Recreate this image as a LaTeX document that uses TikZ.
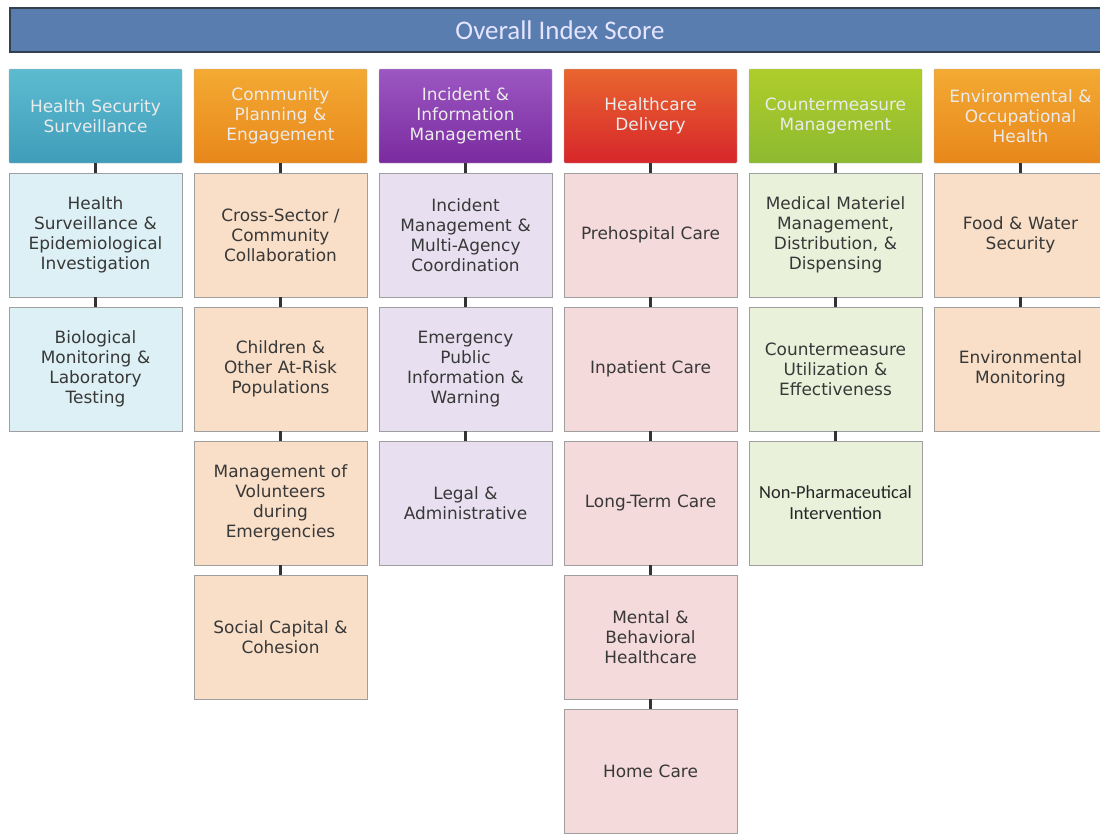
\documentclass[tikz,border=0pt]{standalone}
\usepackage{fontspec}
\setmainfont{DejaVu Sans}
\newfontfamily\calib{Carlito}
\usetikzlibrary{positioning}
\definecolor{barblue}{HTML}{5A7DB0}
\definecolor{barline}{HTML}{33404F}
\definecolor{tealtop}{HTML}{5DBBD0}
\definecolor{tealbot}{HTML}{3F9DBA}
\definecolor{oranget}{HTML}{F3AA33}
\definecolor{orangeb}{HTML}{E8871B}
\definecolor{purpt}{HTML}{9C57C2}
\definecolor{purpb}{HTML}{7A2B9F}
\definecolor{redt}{HTML}{E9662F}
\definecolor{redb}{HTML}{D7262B}
\definecolor{greent}{HTML}{AFCD2B}
\definecolor{greenb}{HTML}{8DBA30}
\definecolor{subteal}{HTML}{DDF0F5}
\definecolor{subpeach}{HTML}{F9DFC8}
\definecolor{subpurp}{HTML}{E8E0F0}
\definecolor{subpink}{HTML}{F5DADC}
\definecolor{subgreen}{HTML}{E9F1DA}

\begin{document}
\begin{tikzpicture}[
  x=1bp, y=-1bp,
  node distance=10bp and 12bp,
  headbox/.style={draw=gray!60,rounded corners=1bp,minimum width=173bp,minimum height=94bp,
    text width=166bp,inner sep=2bp,align=center,text=white!92!black,outer sep=0pt,
    font=\fontsize{17}{20}\selectfont},
  subbox/.style={draw=gray!75,minimum width=173bp,minimum height=124bp,
    text width=166bp,inner sep=2bp,align=center,text=black!78,outer sep=0pt,
    font=\fontsize{17}{20}\selectfont},
  ]
  \tikzset{%
    link/.style={
      line width=2.4bp,
      draw=black!80,
    },
  }
  \useasboundingbox (0,0) rectangle (1100,834);
  \clip (0,0) rectangle (1100,834);
  %Title
  \node[draw=barline,line width=2bp,fill=barblue,minimum width=1100bp,minimum height=44bp,
    anchor=north west,text=white!90!blue,font=\calib\fontsize{27}{30}\selectfont](overall)
    at (9,7) {Overall Index Score};
  %Headers
  \node[headbox,top color=tealtop,bottom color=tealbot,anchor=north west](hss) at (9,69)
    {Health Security\\Surveillance};
  \node[headbox,top color=oranget,bottom color=orangeb](cpe)[right=of hss]
    {Community\\Planning \&\\Engagement};
  \node[headbox,top color=purpt,bottom color=purpb](iim)[right=of cpe]
    {Incident \&\\Information\\Management};
  \node[headbox,top color=redt,bottom color=redb](hcd)[right=of iim]
    {Healthcare\\Delivery};
  \node[headbox,top color=greent,bottom color=greenb](cmm)[right=of hcd]
    {Countermeasure\\Management};
  \node[headbox,top color=oranget,bottom color=orangeb](eoh)[right=of cmm]
    {Environmental \&\\Occupational\\Health};
  %Health Security Surveillance
  \node[subbox,fill=subteal](hss1)[below=of hss]{Health\\Surveillance \&\\Epidemiological\\Investigation};
  \node[subbox,fill=subteal](hss2)[below=of hss1]{Biological\\Monitoring \&\\Laboratory\\Testing};
  %Community Planning
  \node[subbox,fill=subpeach](cpe1)[below=of cpe]{Cross-Sector /\\Community\\Collaboration};
  \node[subbox,fill=subpeach](cpe2)[below=of cpe1]{Children \&\\Other At-Risk\\Populations};
  \node[subbox,fill=subpeach](cpe3)[below=of cpe2]{Management of\\Volunteers\\during\\Emergencies};
  \node[subbox,fill=subpeach](cpe4)[below=of cpe3]{Social Capital \&\\Cohesion};
  %Incident Management
  \node[subbox,fill=subpurp](iim1)[below=of iim]{Incident\\Management \&\\Multi-Agency\\Coordination};
  \node[subbox,fill=subpurp](iim2)[below=of iim1]{Emergency\\Public\\Information \&\\Warning};
  \node[subbox,fill=subpurp](iim3)[below=of iim2]{Legal \&\\Administrative};
  %Healthcare Delivery
  \node[subbox,fill=subpink](hcd1)[below=of hcd]{Prehospital Care};
  \node[subbox,fill=subpink](hcd2)[below=of hcd1]{Inpatient Care};
  \node[subbox,fill=subpink](hcd3)[below=of hcd2]{Long-Term Care};
  \node[subbox,fill=subpink](hcd4)[below=of hcd3]{Mental \&\\Behavioral\\Healthcare};
  \node[subbox,fill=subpink](hcd5)[below=of hcd4]{Home Care};
  %Countermeasure Management
  \node[subbox,fill=subgreen](cmm1)[below=of cmm]{Medical Materiel\\Management,\\Distribution, \&\\Dispensing};
  \node[subbox,fill=subgreen](cmm2)[below=of cmm1]{Countermeasure\\Utilization \&\\Effectiveness};
  \node[subbox,fill=subgreen,text=black!85,font=\calib\fontsize{18.5}{21}\selectfont](cmm3)[below=of cmm2]
    {Non-Pharmaceutical\\Intervention};
  %Environmental Health
  \node[subbox,fill=subpeach](eoh1)[below=of eoh]{Food \& Water\\Security};
  \node[subbox,fill=subpeach](eoh2)[below=of eoh1]{Environmental\\Monitoring};
  %Lines
  \draw[link] (hss) -- (hss1) (hss1) -- (hss2);
  \draw[link] (cpe) -- (cpe1) (cpe1) -- (cpe2) (cpe2) -- (cpe3) (cpe3) -- (cpe4);
  \draw[link] (iim) -- (iim1) (iim1) -- (iim2) (iim2) -- (iim3);
  \draw[link] (hcd) -- (hcd1) (hcd1) -- (hcd2) (hcd2) -- (hcd3) (hcd3) -- (hcd4) (hcd4) -- (hcd5);
  \draw[link] (cmm) -- (cmm1) (cmm1) -- (cmm2) (cmm2) -- (cmm3);
  \draw[link] (eoh) -- (eoh1) (eoh1) -- (eoh2);
\end{tikzpicture}
\end{document}
